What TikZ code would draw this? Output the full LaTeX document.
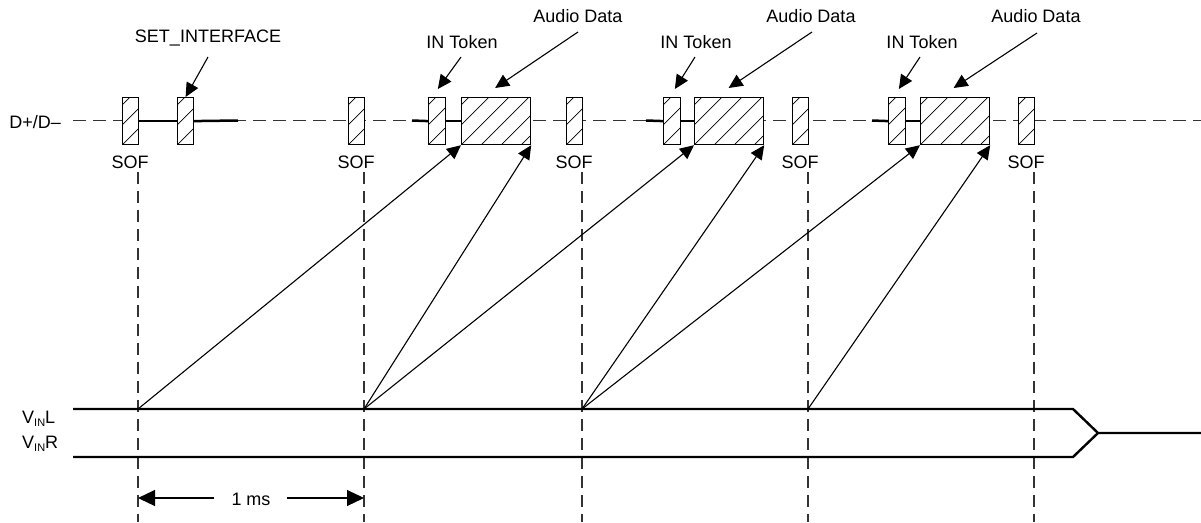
\documentclass[tikz,border=0pt]{standalone}
\usepackage{fontspec}
\setmainfont{Liberation Sans}
\usetikzlibrary{arrows.meta}
\begin{document}
\begin{tikzpicture}[x=1pt,y=-1pt,
  lbl/.style={font=\fontsize{18}{20}\selectfont, inner sep=0pt, anchor=base},
  pkt/.style={draw, line width=1.2pt, fill=white, minimum height=47pt, minimum width=#1,
     inner sep=0pt, anchor=north west,
     path picture={\foreach \k in {-80,-60,...,80}{\draw[line width=0.7pt]
       ([xshift=\k pt]path picture bounding box.south west) -- ++(70pt,70pt);}}},
  pkt/.default=16pt,
  bus/.style={line width=2.5pt},
  sig/.style={line width=2.4pt, line join=miter},
  guide/.style={line width=1.2pt, black!80, dash pattern=on 12pt off 7pt},
  ptr/.style={line width=1.1pt, -{Triangle[length=14pt,width=13pt]}},
  span/.style={line width=1.1pt, -{Triangle[length=17pt,width=16pt]}}
]
\useasboundingbox (0,0) rectangle (1201,522);

% bus line
\coordinate (dl) at (73,120.5);
\coordinate (dr) at (1201,120.5);
\draw[guide, dash pattern=on 13pt off 7pt] (dl) -- (dr);

% thick segments
\coordinate (b1) at (238,120.5);
\coordinate (b2) at (412,120.5);
\coordinate (b3) at (646,120.5);
\coordinate (b4) at (872,120.5);

% packets
\node[pkt] (s1) at (122,97) {};
\node[pkt] (si) at (177,97) {};
\node[pkt] (s2) at (348,97) {};
\node[pkt=16.5pt] (t1) at (428,97) {};
\node[pkt=69pt] (a1) at (461,97) {};
\node[pkt] (s3) at (566,97) {};
\node[pkt=16.5pt] (t2) at (663,97) {};
\node[pkt=69pt] (a2) at (694,97) {};
\node[pkt] (s4) at (792,97) {};
\node[pkt=16.5pt] (t3) at (888,97) {};
\node[pkt=69pt] (a3) at (920,97) {};
\node[pkt] (s5) at (1018,97) {};

\draw[bus] (s1.east) -- (si.west);
\draw[bus] (si.east) -- (b1);
\draw[bus] (b2) -- (t1.west);
\draw[bus] (t1.east) -- (a1.west);
\draw[bus] (b3) -- (t2.west);
\draw[bus] (t2.east) -- (a2.west);
\draw[bus] (b4) -- (t3.west);
\draw[bus] (t3.east) -- (a3.west);

% labels
\node[lbl, anchor=base east] (dd) at (61,128) {D+/D–};
\node[lbl] (l1) at (130,168) {SOF};
\node[lbl] (l2) at (356,168) {SOF};
\node[lbl] (l3) at (574,168) {SOF};
\node[lbl] (l4) at (800,168) {SOF};
\node[lbl] (l5) at (1026,168) {SOF};

\node[lbl] (set) at (208,42) {SET\_INTERFACE};
\node[lbl] (in1) at (462,48) {IN Token};
\node[lbl] (in2) at (696,48) {IN Token};
\node[lbl] (in3) at (922,48) {IN Token};
\node[lbl] (ad1) at (578,22) {Audio Data};
\node[lbl] (ad2) at (811,22) {Audio Data};
\node[lbl] (ad3) at (1036,22) {Audio Data};

\coordinate (setT) at (208,57);
\coordinate (in1T) at (461,57);
\coordinate (in2T) at (695,57);
\coordinate (in3T) at (920,57);
\coordinate (ad1T) at (578,32);
\coordinate (ad2T) at (812,32);
\coordinate (ad3T) at (1037,33);
\draw[ptr] (setT) -- (si.north);
\draw[ptr] (in1T) -- ([xshift=1pt,yshift=8pt]t1.north);
\draw[ptr] (in2T) -- ([xshift=3pt,yshift=8pt]t2.north);
\draw[ptr] (in3T) -- ([xshift=2pt,yshift=8pt]t3.north);
\draw[ptr] (ad1T) -- ([xshift=-1pt,yshift=9pt]a1.north);
\draw[ptr] (ad2T) -- ([xshift=-0.5pt,yshift=9pt]a2.north);
\draw[ptr] (ad3T) -- ([xshift=-1.5pt,yshift=9pt]a3.north);

% vertical guides
\foreach \n/\x in {1/138,2/364,3/582,4/808,5/1034}{
  \coordinate (g\n t) at (\x,172);
  \coordinate (g\n b) at (\x,522);
  \coordinate (v\n) at (\x,409);
  \draw[guide] (g\n t) -- (g\n b);
}

% analog signals
\coordinate (Ls) at (73,409);
\coordinate (Le) at (1073,409);
\coordinate (Rs) at (73,457);
\coordinate (Re) at (1073,457);
\coordinate (M) at (1098,433);
\coordinate (Me) at (1201,433);
\draw[sig] (Ls) -- (Le) -- (M) -- (Me);
\draw[sig] (Rs) -- (Re) -- (M);

\node[lbl, anchor=base west] (vl) at (22,423) {V\raisebox{-3.5pt}{\fontsize{11}{12}\selectfont IN}L};
\node[lbl, anchor=base west] (vr) at (22,448) {V\raisebox{-3.5pt}{\fontsize{11}{12}\selectfont IN}R};

% sample arrows
\draw[ptr] (v1) -- (a1.south west);
\draw[ptr] (v2) -- (a1.south east);
\draw[ptr] (v2) -- (a2.south west);
\draw[ptr] (v3) -- (a2.south east);
\draw[ptr] (v3) -- (a3.south west);
\draw[ptr] (v4) -- (a3.south east);

% 1 ms
\node[lbl] (ms) at (251,505) {1 ms};
\coordinate (msl) at (214,498);
\coordinate (msr) at (287,498);
\coordinate (m1) at (138,498);
\coordinate (m2) at (364,498);
\draw[span] (msl) -- (m1);
\draw[span] (msr) -- (m2);
\end{tikzpicture}
\end{document}
